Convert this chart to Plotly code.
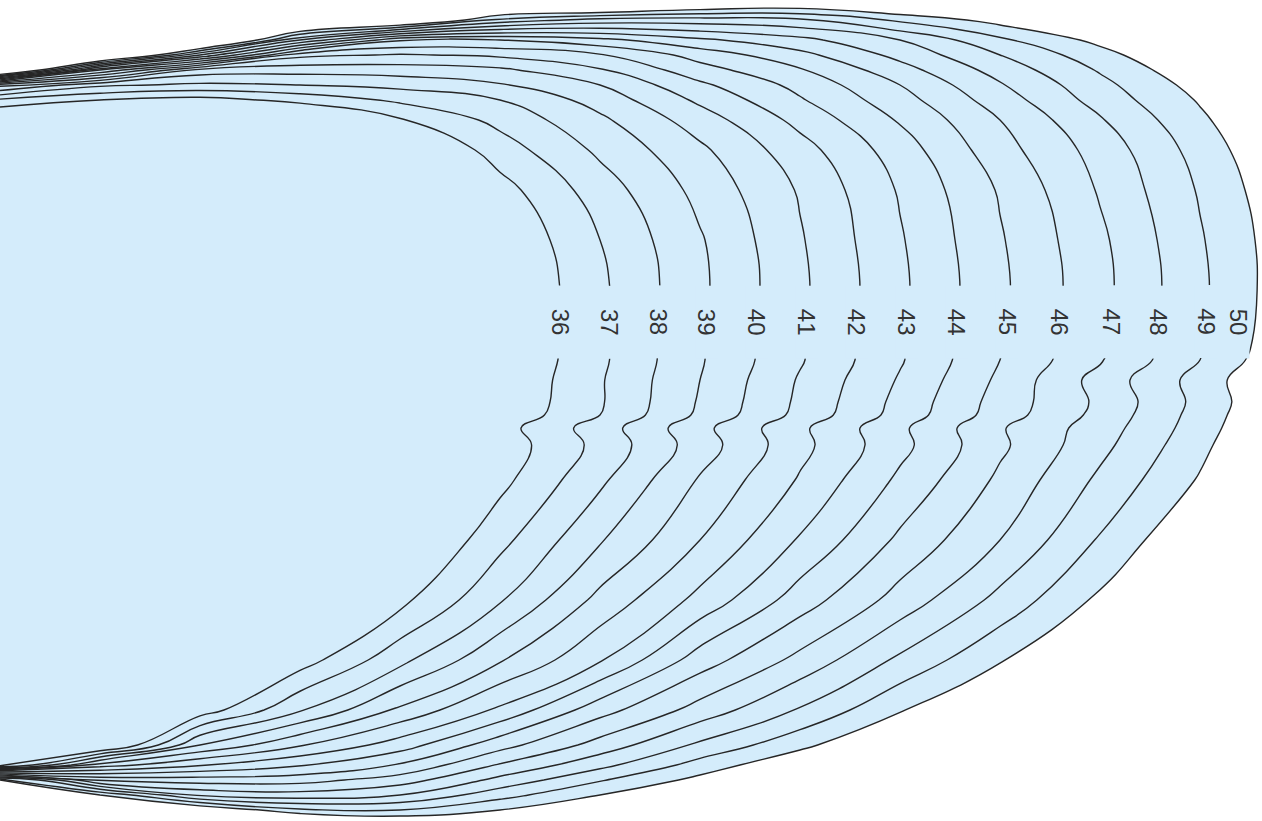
import plotly.graph_objects as go

# contour levels shown in the chart
levels = list(range(36, 51))

# grid positions (pixel-like units, y grows downward)
xs = [0, 100, 200, 300, 400, 500, 600, 700, 800, 900, 1000, 1100, 1200, 1300]
ys = [0, 20, 40, 55, 70, 85, 100, 120, 150, 190, 240, 290, 340, 360, 380, 402,
      415, 428, 445, 480, 540, 600, 660, 710, 745, 765, 780, 795, 810, 830]

# field values, one row per y
z = [
    [54, 54, 54, 54, 54, 54, 54, 52.3, 51.6, 52.1, 52.6, 52.8, 53.7, 54],
    [54, 54, 54, 54, 52.4, 48.7, 47.6, 47.5, 47.8, 49.2, 50.4, 51.3, 52.6, 54],
    [54, 54, 54, 47, 43.1, 43, 43.7, 44.8, 45.7, 47, 48.8, 50.3, 51.8, 53.3],
    [54, 54, 47, 41.3, 40.9, 41.2, 41.9, 43.4, 44.7, 46.3, 48, 49.6, 51.3, 52.8],
    [54, 44, 39.6, 39.4, 39.5, 39.8, 40.9, 42.6, 43.9, 45.6, 47.4, 49.1, 50.8, 52.5],
    [40.3, 38.2, 37.8, 38, 38.3, 38.9, 40, 41.8, 43.3, 45, 46.9, 48.7, 50.4, 52.2],
    [36.8, 36, 35.6, 36.3, 37.2, 38, 39.4, 41.2, 42.9, 44.6, 46.5, 48.4, 50.1, 52],
    [34.5, 33.1, 32.8, 34.4, 35.9, 37.3, 38.8, 40.5, 42.3, 44.1, 46, 47.9, 49.8, 51.6],
    [30.9, 28.7, 29.1, 32.2, 34.5, 36.5, 38.2, 39.8, 41.6, 43.5, 45.6, 47.4, 49.4, 51.4],
    [26.2, 25, 25.3, 30.2, 33.7, 35.6, 37.5, 39.3, 41.1, 43.1, 45.1, 47.1, 49.1, 51.1],
    [25, 25, 25, 30.3, 32.9, 35, 37, 38.9, 40.9, 42.9, 44.9, 46.8, 48.9, 50.9],
    [25, 25, 25.2, 30.2, 32.6, 34.8, 36.8, 38.8, 40.8, 42.8, 44.8, 46.7, 48.8, 50.9],
    [25, 25, 27.6, 30.5, 32.8, 34.8, 36.8, 38.9, 40.9, 42.9, 44.9, 46.8, 48.9, 51],
    [25, 25, 28, 30.6, 32.8, 34.9, 36.8, 38.9, 40.9, 42.9, 45, 46.9, 49, 51.2],
    [25, 25, 28.5, 30.7, 32.8, 35, 36.9, 39, 41.1, 43.1, 45.2, 47.4, 49.4, 51.6],
    [25, 25.3, 28.7, 30.8, 32.8, 35.1, 36.9, 39.1, 41.2, 43.3, 45.4, 47.2, 49.3, 51.5],
    [25, 26, 28.9, 30.9, 33, 35.2, 37, 39.2, 41.3, 43.4, 45.5, 47.3, 49.4, 51.6],
    [25, 27, 29, 31.1, 33.4, 35.6, 37.5, 39.7, 41.8, 43.8, 45.9, 47.5, 49.5, 51.8],
    [25, 26.5, 29.1, 31.3, 33.5, 35.4, 37.3, 39.5, 41.7, 43.7, 45.8, 47.7, 49.7, 52],
    [25, 25.8, 29.2, 31.6, 33.7, 35.7, 37.8, 40.1, 42.1, 44.2, 46.2, 48.2, 50.1, 52.1],
    [25, 25, 29.4, 32.1, 34.5, 36.7, 38.9, 41, 43.1, 45.2, 47, 49.1, 51.1, 53.1],
    [25, 25, 30.3, 33.5, 35.7, 37.9, 40.3, 42.3, 44.5, 46.4, 48.3, 50.2, 52.2, 54],
    [25, 25, 31.5, 35.5, 37.7, 39.9, 41.9, 44.5, 46.3, 48.2, 49.9, 51.6, 53.4, 54],
    [25, 25.1, 35.4, 37.9, 40.2, 42.2, 44.6, 46.4, 48.1, 49.9, 51.6, 53.1, 54, 54],
    [25, 34.2, 39, 40.9, 42.5, 44.6, 46.4, 48.2, 49.7, 51.4, 53.2, 54, 54, 54],
    [35.3, 40.5, 41.9, 42.9, 44.1, 46.1, 47.7, 49.4, 50.9, 52.3, 54, 54, 54, 54],
    [50, 44.8, 44.5, 44.6, 45.5, 47.3, 48.9, 50.3, 51.8, 53, 54, 54, 54, 54],
    [54, 50, 46.8, 46.4, 47, 48.6, 50, 51.4, 52.8, 54, 54, 54, 54, 54],
    [54, 54, 51.2, 49.2, 49, 50, 51.3, 52.6, 53.8, 54, 54, 54, 54, 54],
    [54, 54, 54, 53.7, 52.3, 52.2, 53.1, 54, 54, 54, 54, 54, 54, 54],
]

FILL = "#d4ecfb"
INK = "#333333"
W, H = 1262, 821
LABEL_Y = 322

fig = go.Figure(go.Contour(
    x=xs, y=ys, z=z,
    contours=dict(start=levels[0], end=levels[-1], size=1, coloring="fill", showlabels=False),
    line=dict(color="#262626", width=1.4, smoothing=1.3),
    colorscale=[[0, FILL], [0.98, FILL], [1, "#ffffff"]],
    showscale=False, hoverinfo="skip",
))

# labels sit where each level crosses the LABEL_Y row on the right-hand side
i0 = max(i for i, v in enumerate(ys) if v <= LABEL_Y)
w = (LABEL_Y - ys[i0]) / (ys[i0 + 1] - ys[i0])
row = [(1 - w) * a + w * b for a, b in zip(z[i0], z[i0 + 1])]
for lv in levels:
    j = max(k for k in range(len(xs) - 1) if row[k] <= lv)
    lx = xs[j] + (xs[j + 1] - xs[j]) * (lv - row[j]) / (row[j + 1] - row[j])
    lx = min(lx, W - 24)
    fig.add_annotation(x=lx, y=LABEL_Y, text=str(lv), textangle=90, showarrow=False,
                       width=72, height=22, borderpad=0, bgcolor=FILL,
                       font=dict(family="Liberation Sans, Arial", size=24, color=INK))

fig.update_layout(width=W, height=H, margin=dict(l=0, r=0, t=0, b=0),
                  paper_bgcolor="white", plot_bgcolor="white",
                  xaxis=dict(visible=False, range=[0, W]),
                  yaxis=dict(visible=False, range=[H, 0]))
# drop the page's default body margin so the figure sits at the window corner
fig.write_html("out.html", config={"displayModeBar": False},
               post_script="document.body.style.margin = '0px';")
